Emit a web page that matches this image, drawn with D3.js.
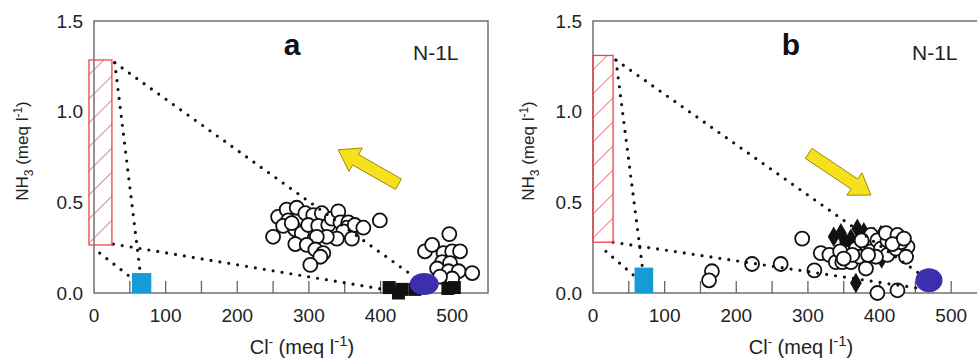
<!DOCTYPE html>
<html>
<head>
<meta charset="utf-8">
<script src="https://cdn.jsdelivr.net/npm/d3@7"></script>
<style>
  body { margin: 0; background: #fff; }
</style>
</head>
<body>
<div id="chart"></div>
<script>
// values (Cl- in meq/l, NH3 in meq/l)
const xTickLabels = [0, 100, 200, 300, 400, 500];
const xTickMarks = [50, 100, 150, 200, 250, 300, 350, 400, 450, 500];
const yTickLabels = [0, 0.5, 1.0, 1.5];

// panel a
const openA = [
  [250, 0.31], [257, 0.42], [269, 0.46], [283, 0.47], [271, 0.40], [264, 0.37], [281, 0.35],
  [276, 0.385], [290, 0.33], [295, 0.44], [306, 0.43], [318, 0.44], [299, 0.375], [313, 0.37],
  [327, 0.375], [332, 0.41], [341, 0.45], [344, 0.39], [355, 0.39], [353, 0.36], [348, 0.34],
  [364, 0.375], [376, 0.36], [399, 0.40], [360, 0.30], [339, 0.30], [325, 0.31], [311, 0.31],
  [281, 0.27], [297, 0.265], [309, 0.24], [320, 0.22], [316, 0.20], [302, 0.155],
  [496, 0.325], [462, 0.23], [472, 0.265], [488, 0.22], [500, 0.23], [511, 0.23], [486, 0.17],
  [497, 0.165], [479, 0.135], [495, 0.12], [509, 0.12], [528, 0.11], [500, 0.08], [483, 0.09]
];
const squaresA = [[412, 0.03], [425, 0.0], [430, 0.02], [448, 0.02], [494, 0.025], [503, 0.03]];
const hatchA = [[-7, 0.265], [25, 1.285]];
const blueA = [[53, 0], [80, 0.11]];
const purpleA = [461, 0.05];
const linesA = [
  [[29, 1.27], [461, 0.05]],
  [[29, 1.27], [68, 0]],
  [[27, 0.27], [420, 0.01]],
  [[8, 0.22], [60, 0.06]]
];
const arrowA = [[425, 0.60], [341, 0.79]]; // tail, tip

// panel b
const openB = [
  [166, 0.12], [162, 0.07], [222, 0.16], [262, 0.16], [309, 0.125], [292, 0.30], [318, 0.22],
  [330, 0.21], [339, 0.17], [348, 0.17], [355, 0.22], [360, 0.17], [367, 0.245], [372, 0.20],
  [381, 0.27], [388, 0.23], [388, 0.32], [397, 0.29], [402, 0.245], [411, 0.29], [409, 0.33],
  [411, 0.21], [425, 0.32], [423, 0.245], [439, 0.255], [437, 0.20], [381, 0.135],
  [345, 0.23], [395, 0.20], [430, 0.28], [418, 0.27], [375, 0.29], [362, 0.21], [434, 0.30],
  [350, 0.19], [384, 0.21],
  [397, 0.0], [425, 0.015]
];
const filledB = [
  [336, 0.31], [346, 0.33], [352, 0.28], [360, 0.30], [369, 0.355], [378, 0.335],
  [392, 0.31], [402, 0.32], [415, 0.31], [403, 0.19], [367, 0.055]
];
const hatchB = [[0, 0.28], [28, 1.31]];
const blueB = [[58, 0], [84, 0.14]];
const purpleB = [469, 0.07];
const linesB = [
  [[32, 1.285], [469, 0.07]],
  [[32, 1.285], [69, 0.14]],
  [[28, 0.28], [465, 0.02]],
  [[18, 0.23], [56, 0.10]]
];
const arrowB = [[301, 0.77], [388, 0.54]];

const width = 977;
const height = 362;
const plotW = 394, plotH = 272;
const font = "'Liberation Sans', Arial, sans-serif";

const x = d3.scaleLinear().domain([0, 550]).range([0, plotW]);
const y = d3.scaleLinear().domain([0, 1.5]).range([plotH, 0]);
const fmt = d3.format(".1f");

const svg = d3.select("#chart").append("svg")
  .attr("width", width)
  .attr("height", height)
  .style("font-family", font);

// hatch pattern for the red end-member box
svg.append("defs").append("pattern")
  .attr("id", "hatch")
  .attr("patternUnits", "userSpaceOnUse")
  .attr("width", 17).attr("height", 17)
  .attr("patternTransform", "rotate(45)")
  .append("line")
  .attr("x1", 0).attr("y1", 0).attr("x2", 0).attr("y2", 17)
  .attr("stroke", "#e9474b").attr("stroke-width", 1.3);

const panels = [
  { label: "a", left: 94, ylabX: -72, open: openA, filled: [], squares: squaresA, hatch: hatchA,
    blue: blueA, purple: purpleA, lines: linesA, arrow: arrowA, rx: 14.5, ry: 11 },
  { label: "b", left: 593, ylabX: -65, open: openB, filled: filledB, squares: [], hatch: hatchB,
    blue: blueB, purple: purpleB, lines: linesB, arrow: arrowB, rx: 13.5, ry: 12 }
];

function arrowPoints(tail, tip) {
  const x0 = x(tail[0]), y0 = y(tail[1]), x1 = x(tip[0]), y1 = y(tip[1]);
  const len = Math.hypot(x1 - x0, y1 - y0);
  const ux = (x1 - x0) / len, uy = (y1 - y0) / len;
  const nx = -uy, ny = ux;
  const w = 6, hw = 13.5, hl = 20;
  const bx = x1 - ux * hl, by = y1 - uy * hl;
  return [
    [x0 + nx * w, y0 + ny * w], [bx + nx * w, by + ny * w], [bx + nx * hw, by + ny * hw],
    [x1, y1],
    [bx - nx * hw, by - ny * hw], [bx - nx * w, by - ny * w], [x0 - nx * w, y0 - ny * w]
  ];
}

panels.forEach(p => {
  const g = svg.append("g").attr("transform", `translate(${p.left},21)`);

  // frame
  g.append("rect")
    .attr("width", plotW).attr("height", plotH)
    .attr("fill", "none").attr("stroke", "#666").attr("stroke-width", 1.4);

  // inward ticks on x axis
  g.selectAll(".tick")
    .data(xTickMarks)
    .join("line")
    .attr("x1", d => x(d)).attr("x2", d => x(d))
    .attr("y1", plotH).attr("y2", plotH - 12)
    .attr("stroke", "#666").attr("stroke-width", 1.3);

  g.selectAll(".xl")
    .data(xTickLabels)
    .join("text")
    .attr("x", d => x(d)).attr("y", plotH + 29)
    .attr("text-anchor", "middle")
    .attr("font-size", 19).attr("fill", "#222")
    .text(d => d);

  g.selectAll(".yl")
    .data(yTickLabels)
    .join("text")
    .attr("x", -11).attr("y", d => y(d))
    .attr("dy", "0.35em")
    .attr("text-anchor", "end")
    .attr("font-size", 19).attr("fill", "#222")
    .text(d => fmt(d));

  // axis titles
  const yl = g.append("text")
    .attr("transform", `translate(${p.ylabX},130) rotate(-90)`)
    .attr("text-anchor", "middle")
    .attr("dy", 6)
    .attr("font-size", 17).attr("fill", "#222");
  yl.append("tspan").text("NH");
  yl.append("tspan").attr("font-size", 12).attr("dy", 5).text("3");
  yl.append("tspan").attr("dy", -5).text(" (meq l");
  yl.append("tspan").attr("font-size", 12).attr("dy", -6).text("-1");
  yl.append("tspan").attr("dy", 6).text(")");

  const xl = g.append("text")
    .attr("x", 208).attr("y", plotH + 61)
    .attr("text-anchor", "middle")
    .attr("font-size", 20).attr("fill", "#222");
  xl.append("tspan").text("Cl");
  xl.append("tspan").attr("font-size", 13).attr("dy", -8).text("-");
  xl.append("tspan").attr("dy", 8).text(" (meq l");
  xl.append("tspan").attr("font-size", 15).attr("dy", -8).text("-1");
  xl.append("tspan").attr("dy", 8).text(")");

  // panel letter and site name
  g.append("text")
    .attr("x", 198).attr("y", 34)
    .attr("text-anchor", "middle")
    .attr("font-size", 30).attr("font-weight", "bold").attr("fill", "#111")
    .text(p.label);
  g.append("text")
    .attr("x", 319).attr("y", 39)
    .attr("font-size", 21).attr("fill", "#222")
    .text("N-1L");

  // filled samples (behind the open ones)
  g.selectAll(".filled")
    .data(p.filled)
    .join("path")
    .attr("transform", d => `translate(${x(d[0])},${y(d[1])})`)
    .attr("d", d3.symbol(d3.symbolDiamond, 120))
    .attr("fill", "#111");

  g.selectAll(".open")
    .data(p.open)
    .join("circle")
    .attr("cx", d => x(d[0])).attr("cy", d => y(d[1]))
    .attr("r", 7)
    .attr("fill", "#fff").attr("stroke", "#111").attr("stroke-width", 1.8);

  // dotted mixing lines
  g.selectAll(".mix")
    .data(p.lines)
    .join("line")
    .attr("x1", d => x(d[0][0])).attr("y1", d => y(d[0][1]))
    .attr("x2", d => x(d[1][0])).attr("y2", d => y(d[1][1]))
    .attr("stroke", "#111").attr("stroke-width", 3.2)
    .attr("stroke-linecap", "round").attr("stroke-dasharray", "0,9");

  // black squares near the axis
  g.selectAll(".sq")
    .data(p.squares)
    .join("rect")
    .attr("x", d => x(d[0]) - 6.5).attr("y", d => y(d[1]) - 6.5)
    .attr("width", 13).attr("height", 13)
    .attr("fill", "#111");

  // end members
  g.append("rect")
    .attr("x", x(p.blue[0][0])).attr("y", y(p.blue[1][1]))
    .attr("width", x(p.blue[1][0]) - x(p.blue[0][0]))
    .attr("height", y(p.blue[0][1]) - y(p.blue[1][1]))
    .attr("fill", "#159bd6");

  g.append("ellipse")
    .attr("cx", x(p.purple[0])).attr("cy", y(p.purple[1]))
    .attr("rx", p.rx).attr("ry", p.ry)
    .attr("fill", "#3b2fb0");

  g.append("rect")
    .attr("x", x(p.hatch[0][0])).attr("y", y(p.hatch[1][1]))
    .attr("width", x(p.hatch[1][0]) - x(p.hatch[0][0]))
    .attr("height", y(p.hatch[0][1]) - y(p.hatch[1][1]))
    .attr("fill", "url(#hatch)")
    .attr("stroke", "#e9474b").attr("stroke-width", 1.3);

  // direction arrow
  g.append("polygon")
    .attr("points", arrowPoints(p.arrow[0], p.arrow[1]).map(q => q.join(",")).join(" "))
    .attr("fill", "#f6e11c").attr("stroke", "#9a8a10").attr("stroke-width", 1);
});
</script>
</body>
</html>
